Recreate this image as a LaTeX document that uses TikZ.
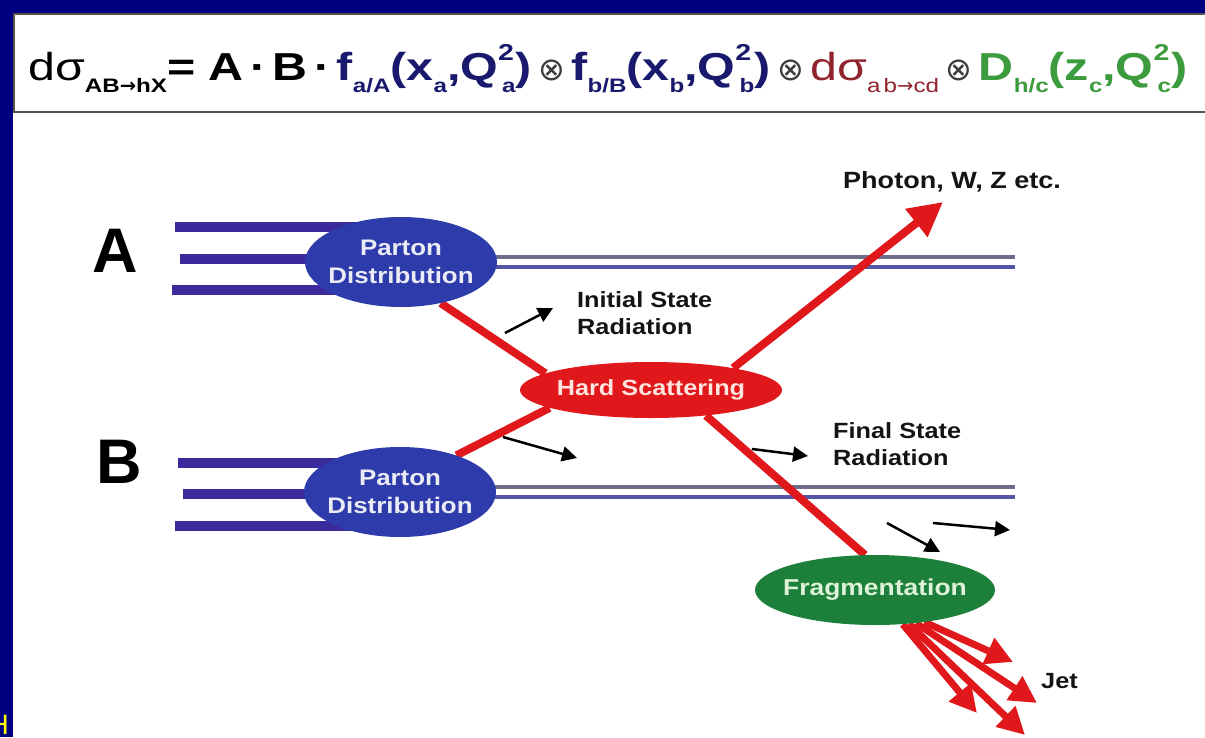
\documentclass[tikz,border=0pt]{standalone}
\usepackage{fontspec}
\setmainfont{Liberation Sans}
\newfontfamily\lab{Liberation Sans}[FakeStretch=1.15]
\newfontfamily\eqf{Liberation Sans}[FakeStretch=1.24]
\newfontfamily\dvs{DejaVu Sans}
\usetikzlibrary{shapes.geometric,arrows.meta,calc}
\pgfdeclarelayer{frame}
\pgfdeclarelayer{background}
\pgfsetlayers{frame,background,main}

\definecolor{navyframe}{RGB}{0,0,128}
\definecolor{quark}{RGB}{58,42,156}
\definecolor{pdblue}{RGB}{45,60,170}
\definecolor{hsred}{RGB}{224,24,28}
\definecolor{frgreen}{RGB}{28,128,58}
\definecolor{beamgray}{RGB}{110,110,140}
\definecolor{beamblue}{RGB}{85,85,165}
\definecolor{eqnavy}{RGB}{25,25,110}
\definecolor{eqred}{RGB}{145,35,45}
\definecolor{eqgreen}{RGB}{60,155,60}
\definecolor{eqgray}{RGB}{60,60,60}
\definecolor{boxgray}{RGB}{85,85,85}
\definecolor{labblack}{RGB}{20,20,20}
\definecolor{hilite}{RGB}{255,255,0}

\newcommand\dn[1]{\raisebox{-0.32em}{\fontsize{19.5}{20}\selectfont #1}}
\newcommand\up[1]{\raisebox{0.5em}{\fontsize{23}{23}\selectfont #1}}
\newcommand\otm{{\dvs\mdseries\color{eqgray}\fontsize{32}{32}\selectfont ⊗}}

\tikzset{
  pdstyle/.style={ellipse, fill=pdblue, minimum width=192pt, minimum height=90pt,
    inner xsep=-12pt, inner ysep=0pt,
    text={rgb,255:red,235;green,235;blue,245}, align=center,
    font=\lab\bfseries\fontsize{22.5}{28}\selectfont},
  hsstyle/.style={ellipse, fill=hsred, minimum width=262pt, minimum height=56pt,
    inner xsep=-10pt, inner ysep=0pt,
    text={rgb,255:red,255;green,228;blue,222}, font=\lab\bfseries\fontsize{22}{26}\selectfont},
  frstyle/.style={ellipse, fill=frgreen, minimum width=240pt, minimum height=70pt,
    inner xsep=-14pt, inner ysep=0pt,
    text={rgb,255:red,222;green,242;blue,215}, font=\lab\bfseries\fontsize{23}{26}\selectfont},
  quarkline/.style={draw=quark, line width=10pt},
  beamtop/.style={draw=beamgray, line width=3.5pt},
  beambot/.style={draw=beamblue, line width=3.5pt},
  redline/.style={draw=hsred, line width=8pt},
  redarrow/.style={draw=hsred, line width=8pt, -{Triangle[length=34pt,width=34pt]}},
  jetarrow/.style={draw=hsred, line width=7pt, -{Triangle[length=27pt,width=27pt]}},
  radarrow/.style={draw=black, line width=2.5pt, -{Triangle[length=15pt,width=15pt]}},
  lab/.style={text=labblack, inner sep=0pt, align=left, font=\lab\bfseries\fontsize{22}{27}\selectfont},
  beamname/.style={text=black, inner sep=0pt, font=\bfseries\fontsize{63}{63}\selectfont},
}

\begin{document}
\begin{tikzpicture}[x=1pt,y=-1pt]
\useasboundingbox (0,0) rectangle (1205,737);
\begin{pgfonlayer}{frame}
  \fill[navyframe] (0,0) rectangle (1205,737);
  \fill[white] (13,13) rectangle (1210,740);
  \draw[line width=2.5pt, draw=boxgray] (14,14) rectangle (1215,112);
\end{pgfonlayer}

% formula
\node[anchor=base west, inner sep=0pt, font=\eqf\bfseries\fontsize{39}{44}\selectfont, text=black] (eq) at (28,80) {%
{\mdseries dσ}\dn{AB{\dvs→}hX}= A\,·\,B\,·\,{\color{eqnavy}f\dn{a/A}(x\dn{a},Q\up{2}\kern-0.3em\dn{a})}\,\otm\,{\color{eqnavy}f\dn{b/B}(x\dn{b},Q\up{2}\kern-0.3em\dn{b})}\,\otm\,{\color{eqred}\mdseries dσ\dn{a\,b{\dvs→}cd}}\,\otm\,{\color{eqgreen}D\dn{h/c}(z\dn{c},Q\up{2}\kern-0.3em\dn{c})}};

% yellow clipped text at lower left
\node[anchor=base east, inner sep=0pt, text=hilite, font=\fontsize{28}{28}\selectfont] (hd) at (9,734) {H};

% beam labels
\node[beamname, anchor=base west] (A) at (92,272) {A};
\node[beamname, anchor=base west] (B) at (96,483) {B};

% ellipses
\node[pdstyle] (pdA) at (401,262) {Parton\\Distribution};
\node[pdstyle] (pdB) at (400,492) {Parton\\Distribution};
\node[hsstyle] (hs) at (651,390) {Hard Scattering};
\node[frstyle] (fr) at (875,590) {Fragmentation};

% free ends
\coordinate (qa1) at (175,227);
\coordinate (qa2) at (180,259);
\coordinate (qa3) at (172,290);
\coordinate (qb1) at (178,463);
\coordinate (qb2) at (183,494);
\coordinate (qb3) at (175,526);
\coordinate (ph) at (943,202);
\coordinate (j1) at (1013,662);
\coordinate (j2) at (1037,703);
\coordinate (j3) at (1025,735);
\coordinate (j4) at (977,713);
\coordinate (beA) at (1015,262);
\coordinate (beB) at (1015,492);

\begin{pgfonlayer}{background}
  % quark lines
  \draw[quarkline] (qa1) -- ($(pdA.center)+(0,-35)$);
  \draw[quarkline] (qa2) -- ($(pdA.center)+(0,-3)$);
  \draw[quarkline] (qa3) -- ($(pdA.center)+(0,28)$);
  \draw[quarkline] (qb1) -- ($(pdB.center)+(0,-29)$);
  \draw[quarkline] (qb2) -- ($(pdB.center)+(0,2)$);
  \draw[quarkline] (qb3) -- ($(pdB.center)+(0,34)$);
  % beam remnants
  \draw[beamtop] ($(pdA.center)+(0,-5)$) -- ($(beA)+(0,-5)$);
  \draw[beambot] ($(pdA.center)+(0,5)$) -- ($(beA)+(0,5)$);
  \draw[beamtop] ($(pdB.center)+(0,-5)$) -- ($(beB)+(0,-5)$);
  \draw[beambot] ($(pdB.center)+(0,5)$) -- ($(beB)+(0,5)$);
  % partons into hard scattering
  \draw[redline] (pdA.-46) -- (hs.171);
  \draw[redline] (pdB.33) -- (hs.190);
  \draw[redline] (hs.-25) -- (fr.106);
  \draw[redarrow] (hs.15) -- (ph);
  % jets
  \draw[jetarrow] (fr.-33) -- (j1);
  \draw[jetarrow] (fr.-39) -- (j2);
  \draw[jetarrow] (fr.-45) -- (j3);
  \draw[jetarrow] (fr.-51) -- (j4);
\end{pgfonlayer}

% radiation arrows
\coordinate (r1s) at (505,333); \coordinate (r1e) at (553,308);
\coordinate (r2s) at (503,437); \coordinate (r2e) at (577,458);
\coordinate (r3s) at (752,449); \coordinate (r3e) at (808,456);
\coordinate (r4s) at (887,523); \coordinate (r4e) at (940,552);
\coordinate (r5s) at (933,523); \coordinate (r5e) at (1010,530);
\draw[radarrow] (r1s) -- (r1e);
\draw[radarrow] (r2s) -- (r2e);
\draw[radarrow] (r3s) -- (r3e);
\draw[radarrow] (r4s) -- (r4e);
\draw[radarrow] (r5s) -- (r5e);

% labels
\node[lab, anchor=north west] (isr) at (577,291) {Initial State\\Radiation};
\node[lab, anchor=north west] (fsr) at (833,422) {Final State\\Radiation};
\node[lab, anchor=north west, font=\lab\bfseries\fontsize{23.5}{27}\selectfont] (phl) at (843,171) {Photon, W, Z etc.};
\node[lab, anchor=north west] (jet) at (1041,673) {Jet};
\end{tikzpicture}
\end{document}
